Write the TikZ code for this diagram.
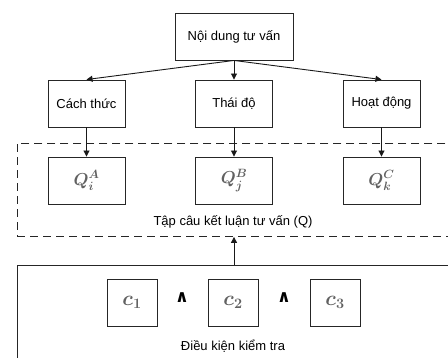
\documentclass[tikz,border=0pt]{standalone}
\usepackage{fontspec}
\setmainfont{Liberation Sans}
\newfontfamily\symfont{DejaVu Sans}
\usetikzlibrary{arrows.meta}
\begin{document}
\begin{tikzpicture}[x=1pt,y=-1pt,
  txt/.style={font=\fontsize{13}{15}\selectfont},
  box/.style={draw=black!85, line width=0.9pt, minimum width=77pt, minimum height=47pt, inner sep=0pt, txt},
  mathbox/.style={draw=black!85, line width=0.9pt, minimum width=77pt, minimum height=47pt, inner sep=0pt, text=black!62, font=\fontsize{18}{21}\selectfont\boldmath},
  cbox/.style={draw=black!85, line width=0.9pt, minimum width=50pt, minimum height=47pt, inner sep=0pt, text=black!62, font=\fontsize{20}{23}\selectfont\boldmath},
  frame/.style={draw=black!85, line width=0.9pt, inner sep=0pt, anchor=north west, minimum width=460pt},
  arr/.style={-{Triangle[length=6pt,width=6pt]}, line width=0.9pt, draw=black!90},
  andsym/.style={font=\symfont\bfseries\fontsize{17}{20}\selectfont},
]
\useasboundingbox (0,0) rectangle (448,358);
\clip (0,0) rectangle (448,358);

% outer groups
\node[frame, dashed, dash pattern=on 8pt off 5pt, minimum height=93pt] (qset) at (17,143) {};
\node[frame, minimum height=110pt] (cond) at (17,265) {};

% tree of topics
\node[box, minimum width=118pt] (top) at (234,36.5) {Nội dung tư vấn};
\node[box] (ca) at (86.5,103.5) {Cách thức};
\node[box] (cb) at (234,103.5) {Thái độ};
\node[box] (cc) at (381.5,103.5) {Hoạt động};

% conclusion sets
\node[mathbox] (qa) at (86.5,180.5) {$Q_i^A$};
\node[mathbox] (qb) at (234,180.5) {$Q_j^B$};
\node[mathbox] (qc) at (381.5,180.5) {$Q_k^C$};
\node[txt] (qlbl) at (233,222) {Tập câu kết luận tư vấn (Q)};

% conditions
\node[cbox] (c1) at (132,302.5) {$c_1$};
\node[cbox] (c2) at (233,302.5) {$c_2$};
\node[cbox] (c3) at (335,302.5) {$c_3$};
\node[andsym] (and1) at (182,298) {∧};
\node[andsym] (and2) at (284,298) {∧};
\node[txt] (clbl) at (233,346) {Điều kiện kiểm tra};

% connectors
\draw[arr] (top.south) -- (ca.north);
\draw[arr] (top.south) -- (cb.north);
\draw[arr] (top.south) -- (cc.north);
\draw[arr] (ca.south) -- (qa.north);
\draw[arr] (cb.south) -- (qb.north);
\draw[arr] (cc.south) -- (qc.north);
\draw[arr] (top.south |- cond.north) -- (top.south |- qset.south);
\end{tikzpicture}
\end{document}
